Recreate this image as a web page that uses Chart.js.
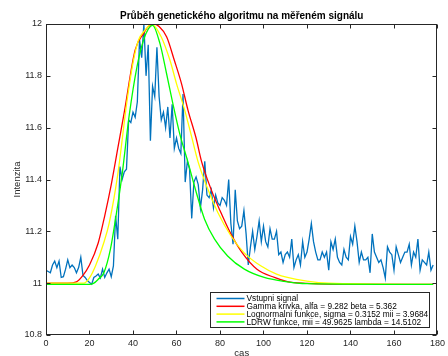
<!DOCTYPE html>
<html>
<head>
<meta charset="utf-8">
<script src="https://cdn.jsdelivr.net/npm/chart.js@4.4.0/dist/chart.umd.min.js"></script>
<style>
html, body { margin: 0; padding: 0; background: #fff; }
#wrap { width: 448px; height: 356px; position: relative; }
</style>
</head>
<body>
<div id="wrap"><canvas id="graf" width="448" height="356"></canvas></div>
<script>
// vstupni signal, vzorky po 1 (cas 0..178)
const signal = [
  11.05, 11.045, 11.04, 11.07, 11.085, 11.06, 11.085, 11.022, 11.025, 11.054,
  11.09, 11.06, 11.07, 11.06, 11.04, 11.06, 11.10, 11.03, 11.022, 11.01,
  11.003, 10.996, 11.022, 11.028, 11.035, 11.02, 11.054, 11.022, 11.04, 11.054,
  11.025, 11.067, 11.26, 11.17, 11.45, 11.40, 11.43, 11.44, 11.63, 11.62,
  11.66, 11.64, 11.70, 11.94, 11.87, 12.00, 11.80, 11.92, 11.55, 11.76,
  11.72, 11.91, 11.72, 11.63, 11.66, 11.60, 11.68, 11.56, 11.69, 11.52,
  11.56, 11.52, 11.50, 11.73, 11.39, 11.47, 11.44, 11.25, 11.39, 11.41,
  11.38, 11.29, 11.36, 11.47, 11.34, 11.33, 11.36, 11.29, 11.34, 11.31,
  11.30, 11.33, 11.32, 11.30, 11.40, 11.23, 11.15, 11.36, 11.24, 11.21,
  11.22, 11.28, 11.19, 11.07, 11.14, 11.20, 11.13, 11.18, 11.24, 11.16,
  11.22, 11.16, 11.14, 11.21, 11.17, 11.17, 11.20, 11.11, 11.12, 11.08,
  11.11, 11.12, 11.10, 11.17, 11.06, 11.09, 11.11, 11.07, 11.16, 11.10,
  11.12, 11.17, 11.23, 11.16, 11.12, 11.09, 11.09, 11.12, 11.10, 11.12,
  11.05, 11.16, 11.13, 11.17, 11.10, 11.08, 11.07, 11.13, 11.10, 11.09,
  11.18, 11.15, 11.22, 11.16, 11.08, 11.12, 11.09, 11.09, 11.10, 11.04,
  11.19, 11.12, 11.10, 11.08, 11.09, 11.06, 11.02, 11.14, 11.12, 11.11,
  11.05, 11.14, 11.11, 11.08, 11.10, 11.12, 11.12, 11.15, 11.07, 11.12,
  11.10, 11.17, 11.05, 11.09, 11.08, 11.07, 11.12, 11.05, 11.07
];

// gamma krivka
const gammaX = [0, 5, 10, 14, 17, 20, 24, 27, 30, 33, 36, 41, 45, 47, 49.5, 52, 55.5, 59, 62.3, 65.3, 69, 71.5, 76, 80, 85, 90, 97, 105, 111, 120, 130, 178];
const gammaY = [11.0, 11.0, 11.0, 11.005, 11.03, 11.07, 11.155, 11.26, 11.38, 11.52, 11.66, 11.90, 11.965, 11.99, 12.0, 11.99, 11.95, 11.86, 11.77, 11.667, 11.56, 11.47, 11.36, 11.28, 11.19, 11.12, 11.054, 11.022, 11.006, 10.999, 10.996, 10.995];

// lognormalni funkce
const lognX = [0, 10, 17.5, 20, 22.8, 26.6, 29, 33, 37.2, 40, 42.5, 45.5, 48.5, 53, 57, 60, 63.8, 66.8, 70, 74.4, 79, 85, 91, 98.7, 106, 111, 120, 130, 178];
const lognY = [11.0, 11.0, 11.0, 11.02, 11.067, 11.157, 11.23, 11.42, 11.70, 11.85, 11.937, 11.976, 12.0, 11.95, 11.86, 11.77, 11.667, 11.57, 11.466, 11.363, 11.273, 11.183, 11.118, 11.067, 11.035, 11.022, 11.008, 11.0, 10.995];

// LDRW funkce
const ldrwX = [0, 10, 20, 22, 24, 26.6, 29.6, 32.2, 35, 38.3, 41.8, 44.8, 47, 49, 52.4, 55.4, 58.4, 61.5, 65.3, 69.1, 72.9, 77.5, 83.5, 91.2, 100.3, 109.4, 120, 178];
const ldrwY = [10.995, 10.995, 10.995, 11.0, 11.015, 11.04, 11.13, 11.26, 11.42, 11.65, 11.834, 11.937, 11.98, 11.995, 11.924, 11.81, 11.69, 11.576, 11.466, 11.35, 11.247, 11.17, 11.105, 11.054, 11.022, 11.007, 10.998, 10.995];

const xTicks = [0, 20, 40, 60, 80, 100, 120, 140, 160, 180];
const yTicks = [10.8, 11, 11.2, 11.4, 11.6, 11.8, 12];
const nazvy = [
  'Vstupni signal',
  'Gamma krivka, alfa = 9.282 beta = 5.362',
  'Lognormalni funkce, sigma = 0.3152 mii = 3.9684',
  'LDRW funkce, mii = 49.9625 lambda = 14.5102'
];
const barvy = ['#0072BD', '#FF0000', '#FFFF00', '#00FF00'];

const body = (xs, ys) => xs.map((x, i) => ({ x: x, y: ys[i] }));
const osa = '#262626';
const pismo = 'Liberation Sans, Arial, sans-serif';

// ramecek, tiky dovnitr a legenda
const ramecek = {
  id: 'ramecek',
  afterDraw(chart) {
    const { ctx, chartArea: a, scales: { x, y } } = chart;
    ctx.save();
    ctx.strokeStyle = osa;
    ctx.lineWidth = 1;
    const L = Math.round(a.left) + 0.5, R = Math.round(a.right) - 0.5;
    const T = Math.round(a.top) + 0.5, B = Math.round(a.bottom) - 0.5;
    ctx.strokeRect(L, T, R - L, B - T);
    ctx.beginPath();
    xTicks.forEach(v => {
      const px = Math.round(x.getPixelForValue(v)) + 0.5;
      ctx.moveTo(px, B); ctx.lineTo(px, B - 4);
      ctx.moveTo(px, T); ctx.lineTo(px, T + 4);
    });
    yTicks.forEach(v => {
      const py = Math.round(y.getPixelForValue(v)) + 0.5;
      ctx.moveTo(L, py); ctx.lineTo(L + 4, py);
      ctx.moveTo(R, py); ctx.lineTo(R - 4, py);
    });
    ctx.stroke();

    // legenda
    const w = 219, h = 35;
    const lx = Math.round(a.right - 8.5 - w) + 0.5;
    const ly = Math.round(a.bottom - 8 - h) + 0.5;
    ctx.fillStyle = '#fff';
    ctx.fillRect(lx, ly, w, h);
    ctx.strokeStyle = osa;
    ctx.strokeRect(lx, ly, w, h);
    ctx.font = '8.3px ' + pismo;
    ctx.textBaseline = 'middle';
    ctx.fillStyle = '#000';
    chart.data.datasets.forEach((ds, i) => {
      const ry = ly + 6 + i * 7.8;
      ctx.strokeStyle = ds.borderColor;
      ctx.lineWidth = 1.5;
      ctx.beginPath();
      ctx.moveTo(lx + 6, ry); ctx.lineTo(lx + 34, ry);
      ctx.stroke();
      ctx.fillText(ds.label, lx + 36, ry + 0.5);
    });
    ctx.restore();
  }
};

const sada = (i, data, order) => ({
  label: nazvy[i],
  data: data,
  borderColor: barvy[i],
  backgroundColor: barvy[i],
  borderWidth: 1.3,
  pointRadius: 0,
  fill: false,
  order: order,
  tension: i === 0 ? 0 : 0.4,
  cubicInterpolationMode: i === 0 ? 'default' : 'monotone'
});

new Chart(document.getElementById('graf'), {
  type: 'line',
  data: {
    datasets: [
      sada(0, signal.map((v, i) => ({ x: i, y: v })), 4),
      sada(1, body(gammaX, gammaY), 3),
      sada(2, body(lognX, lognY), 2),
      sada(3, body(ldrwX, ldrwY), 1)
    ]
  },
  options: {
    responsive: false,
    animation: false,
    layout: { padding: { left: 0, right: 6, top: 0, bottom: 0 } },
    plugins: {
      legend: { display: false },
      tooltip: { enabled: false },
      title: {
        display: true,
        fullSize: false,
        text: 'Průběh genetického algoritmu na měřeném signálu',
        color: '#000',
        font: { family: pismo, size: 10, weight: 'bold' },
        padding: { top: 10.5, bottom: 1.5 }
      }
    },
    scales: {
      x: {
        type: 'linear',
        min: 0, max: 180,
        afterBuildTicks: s => { s.ticks = xTicks.map(v => ({ value: v })); },
        afterFit: s => { s.height = 21; },
        grid: { display: false, drawTicks: false },
        border: { display: false },
        ticks: { color: osa, padding: 3, maxRotation: 0, font: { family: pismo, size: 9 } },
        title: { display: true, text: 'cas', color: osa, font: { family: pismo, size: 9.5 }, padding: { top: 0, bottom: -3 } }
      },
      y: {
        type: 'linear',
        min: 10.8, max: 12,
        afterBuildTicks: s => { s.ticks = yTicks.map(v => ({ value: v })); },
        afterFit: s => { s.width = 46; },
        grid: { display: false, drawTicks: false },
        border: { display: false },
        ticks: { color: osa, padding: 4, font: { family: pismo, size: 9 }, callback: v => String(v) },
        title: { display: true, text: 'Intenzita', color: osa, font: { family: pismo, size: 9.5 }, padding: { top: 12, bottom: 0 } }
      }
    }
  },
  plugins: [ramecek]
});
</script>
</body>
</html>
